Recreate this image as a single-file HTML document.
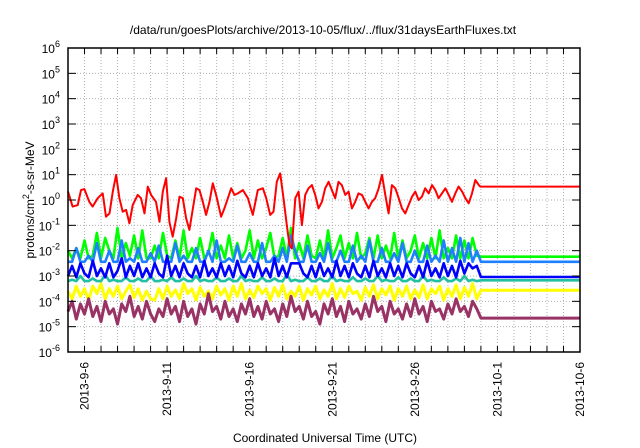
<!DOCTYPE html>
<html><head><meta charset="utf-8"><style>
body{margin:0;background:#fff}
svg{display:block;font-family:"Liberation Sans",sans-serif}
</style></head><body>
<svg id="chart" width="640" height="448" viewBox="0 0 640 448" xmlns="http://www.w3.org/2000/svg">
<rect width="640" height="448" fill="#fff"/>
<text x="323" y="34" font-size="12" text-anchor="middle">/data/run/goesPlots/archive/2013-10-05/flux/../flux/31daysEarthFluxes.txt</text>
<g id="grid"></g><g id="series"></g><g id="axes"></g>
<text transform="translate(34,200) rotate(-90)" font-size="12" text-anchor="middle">protons/cm<tspan dy="-5" font-size="9">2</tspan><tspan dy="5">-s-sr-MeV</tspan></text>
<text x="325" y="442" font-size="12" text-anchor="middle">Coordinated Universal Time (UTC)</text>
</svg>
<script>
const yTickExps=[-6,-5,-4,-3,-2,-1,0,1,2,3,4,5,6];
const xTickLabels=["2013-9-6","2013-9-11","2013-9-16","2013-9-21","2013-9-26","2013-10-1","2013-10-6"];
const xTickDays=[1,6,11,16,21,26,31];
const redDays=[0,0.28,0.59,0.79,0.99,1.29,1.49,1.80,2.10,2.30,2.51,2.71,2.91,3.11,3.31,3.52,3.72,3.92,4.22,4.42,4.63,4.83,5.03,5.33,5.54,5.74,5.94,6.14,6.34,6.55,6.75,6.95,7.15,7.35,7.56,7.76,7.96,8.16,8.36,8.57,8.77,8.97,9.27,9.47,9.68,9.88,10.08,10.28,10.59,10.89,11.19,11.49,11.80,12.0,
12.24,12.44,12.64,12.85,13.05,13.25,13.41,13.55,13.76,13.96,14.16,14.36,14.56,14.77,14.97,15.17,15.37,15.57,15.78,15.98,16.18,16.38,16.58,16.79,16.99,17.19,17.39,17.59,17.80,18.0,18.20,18.40,18.60,18.81,19.01,19.21,19.41,19.61,19.82,20.02,20.22,20.42,20.62,20.83,21.03,21.23,21.43,21.63,21.84,22.04,22.24,22.44,22.64,22.85,23.05,23.25,23.45,23.65,23.86,24.06,24.26,24.46,24.66,24.87,24.97,31];
const redLog=[0.33,-0.26,-0.2,0.39,0.43,-0.07,-0.26,0.07,0.26,-0.66,-0.53,0.33,0.99,0.07,-0.46,-0.39,-0.92,-0.2,0.2,0.07,-0.53,0.53,0.2,-0.07,-0.86,0.33,0.86,-0.86,-1.45,-0.72,0.13,0.07,-0.72,-1.18,-0.33,0.46,0.39,-0.07,-0.59,-0.07,0.66,0.2,-0.66,-0.33,0.07,0.46,0.2,0.26,0.39,0.07,-0.59,0.39,0.46,0.07,
-0.59,-0.46,0.72,1.05,0.07,-0.99,-1.78,-1.91,0.07,0.33,-0.99,0.2,0.46,0.59,0.2,-0.33,-0.07,0.46,0.72,0.39,0.07,0.72,0.59,0.2,0.33,-0.33,-0.07,0.26,0.2,-0.07,-0.33,-0.07,0.07,0.46,0.99,0.2,-0.53,0.59,0.46,0.07,-0.33,-0.53,-0.2,0.13,0.33,0,0.13,0.46,0.26,0.59,0.39,0.07,0.26,0.46,0.2,-0.07,0.26,0.53,0.33,0.07,-0.13,0.26,0.79,0.59,0.53,0.53];
const greenLog=[-2.0,-2.3,-1.9,-2.3,-1.6,-2.3,-2.2,-1.3,-2.3,-1.5,-2.0,-2.3,-1.1,-2.3,-1.7,-2.2,-1.4,-2.3,-1.2,-2.3,
-2.3,-1.8,-2.3,-1.3,-2.2,-2.3,-1.6,-2.3,-1.2,-2.3,-1.9,-2.3,-1.5,-2.3,-2.1,-1.3,-2.3,-1.8,-2.3,-1.4,
-2.3,-1.7,-2.3,-2.0,-1.2,-2.3,-1.6,-2.3,-1.9,-1.3,-2.3,-2.2,-1.5,-2.3,-1.1,-2.3,-1.7,-2.3,-1.4,-2.2,
-2.3,-1.6,-2.3,-1.2,-2.3,-1.9,-1.4,-2.3,-1.7,-2.3,-1.3,-2.3,-2.1,-1.5,-2.3,-1.4,-2.3,-1.8,-2.3,-1.3,
-2.3,-1.6,-2.3,-2.0,-1.4,-2.3,-1.7,-2.3,-1.5,-2.3,-1.2,-2.3,-1.9,-2.3,-1.4,-2.3,-1.6,-2.3,-1.5,-2.2,-2.24];
const lightBlueLog=[-2.44,-2.44,-1.9,-2.44,-2.44,-2.2,-2.44,-1.7,-2.44,-2.44,-2.0,-2.44,-2.44,-1.6,-2.44,-2.3,-2.44,-1.9,-2.44,-2.44,
-2.1,-2.44,-1.8,-2.44,-2.44,-2.44,-1.7,-2.44,-2.2,-2.44,-2.44,-1.9,-2.44,-2.44,-2.0,-2.44,-1.6,-2.44,-2.44,-2.3,
-2.44,-1.8,-2.44,-2.44,-2.1,-2.44,-2.44,-1.7,-2.44,-2.44,-2.2,-2.44,-1.9,-2.44,-1.4,-2.0,-2.44,-2.44,-1.8,-2.44,
-2.44,-2.1,-2.44,-1.7,-2.44,-2.44,-2.0,-2.44,-2.44,-1.8,-2.44,-2.2,-2.44,-1.6,-2.44,-2.44,-1.9,-2.44,-2.44,-2.1,
-2.44,-1.7,-2.44,-2.44,-2.0,-2.44,-2.44,-1.8,-2.44,-2.2,-2.44,-1.6,-2.44,-1.9,-2.44,-1.5,-2.44,-1.7,-2.44,-2.0,-2.44];
const blueLog=[-3.0,-2.6,-3.05,-2.5,-2.9,-3.05,-2.4,-3.0,-2.7,-3.05,-2.5,-3.05,-2.8,-2.3,-3.05,-2.6,-3.0,-2.5,-3.05,-2.7,
-3.05,-2.5,-2.9,-3.05,-2.2,-3.0,-2.6,-3.05,-2.5,-2.9,-3.05,-2.6,-3.05,-2.4,-3.0,-2.7,-3.05,-2.5,-3.0,-2.6,
-3.05,-2.4,-2.9,-3.05,-2.6,-3.05,-2.5,-3.0,-2.7,-3.05,-2.3,-3.0,-2.6,-3.05,-2.5,-2.5,-2.5,-2.9,-3.05,-2.6,
-3.05,-2.5,-3.0,-2.7,-3.05,-2.4,-3.0,-2.6,-3.05,-2.5,-2.9,-3.05,-2.6,-3.05,-2.4,-3.0,-2.7,-3.05,-2.5,-3.0,
-2.6,-3.05,-2.5,-2.9,-3.05,-2.6,-3.05,-2.4,-3.0,-2.7,-3.05,-2.5,-3.0,-2.6,-3.05,-2.4,-2.9,-2.5,-2.7,-2.6,-3.04];
const tealLog=[-3.2,-3.15,-3.2,-3.0,-3.2,-3.2,-3.1,-3.2,-3.2,-2.95,-3.2,-3.15,-3.2,-3.2,-3.05,-3.2,-3.2,-3.1,-3.2,-3.2,
-3.0,-3.2,-3.2,-3.15,-3.2,-3.05,-3.2,-3.2,-3.1,-3.2,-3.2,-3.0,-3.2,-3.15,-3.2,-3.2,-3.05,-3.2,-3.2,-3.1,
-3.2,-3.2,-3.0,-3.2,-3.15,-3.2,-3.2,-3.05,-3.2,-3.2,-3.1,-3.2,-3.2,-2.95,-3.2,-3.15,-3.2,-3.2,-3.05,-3.2,
-3.2,-3.1,-3.2,-3.2,-3.0,-3.2,-3.15,-3.2,-3.2,-3.05,-3.2,-3.2,-3.1,-3.2,-3.2,-3.0,-3.2,-3.15,-3.2,-3.2,
-3.05,-3.2,-3.2,-3.1,-3.2,-3.2,-3.0,-3.2,-3.15,-3.2,-3.2,-3.05,-3.2,-3.2,-3.1,-3.2,-3.0,-3.2,-3.15,-3.2,-3.17];
const yellowLog=[-3.6,-3.9,-3.4,-3.8,-3.5,-3.95,-3.4,-3.7,-3.3,-3.9,-3.5,-3.8,-3.4,-3.9,-3.6,-3.35,-3.85,-3.5,-3.95,-3.6,
-3.9,-3.95,-3.5,-3.9,-3.4,-3.8,-3.55,-3.9,-3.3,-3.7,-3.5,-3.95,-3.45,-3.8,-3.6,-3.9,-3.4,-3.75,-3.5,-3.95,
-3.4,-3.8,-3.3,-3.9,-3.55,-3.85,-3.4,-3.7,-3.5,-3.95,-3.45,-3.8,-3.35,-3.9,-3.6,-3.8,-3.4,-3.95,-3.5,-3.75,
-3.4,-3.9,-3.55,-3.8,-3.3,-3.9,-3.5,-3.85,-3.4,-3.7,-3.6,-3.95,-3.45,-3.8,-3.35,-3.9,-3.5,-3.75,-3.4,-3.95,
-3.5,-3.8,-3.4,-3.9,-3.55,-3.85,-3.35,-3.9,-3.5,-3.7,-3.4,-3.95,-3.5,-3.8,-3.35,-3.9,-3.45,-3.8,-3.3,-3.9,-3.56];
const purpleLog=[-4.4,-4.0,-4.7,-4.1,-4.5,-3.9,-4.6,-4.2,-4.8,-4.0,-4.5,-4.3,-4.9,-4.1,-4.4,-3.8,-4.6,-4.2,-4.7,-4.0,
-4.5,-4.8,-4.3,-4.6,-3.9,-4.5,-4.2,-4.8,-4.0,-4.6,-4.3,-4.9,-4.1,-4.5,-3.7,-4.4,-4.2,-4.7,-4.0,-4.6,
-4.3,-4.8,-4.1,-4.5,-3.9,-4.6,-4.2,-4.7,-4.0,-4.5,-4.3,-4.8,-4.1,-4.6,-3.8,-4.4,-4.2,-4.7,-4.0,-4.6,
-4.4,-4.9,-4.1,-4.5,-3.9,-4.6,-4.2,-4.8,-4.0,-4.5,-4.3,-4.7,-4.1,-4.6,-3.8,-4.4,-4.2,-4.8,-4.0,-4.5,
-4.3,-4.7,-4.1,-4.6,-3.9,-4.5,-4.2,-4.8,-4.0,-4.4,-4.3,-4.7,-4.1,-4.5,-3.9,-4.4,-4.2,-4.6,-4.0,-4.3,-4.66];
const sampleStepDays=0.25;

const NS="http://www.w3.org/2000/svg";
const L=68,R=580,T=48,B=352,D0=0,D1=31,E0=-6,E1=6;
function xs(d){return L+(d-D0)/(D1-D0)*(R-L);}
function ys(e){return B-(e-E0)/(E1-E0)*(B-T);}
function mk(tag,attrs,parent){const el=document.createElementNS(NS,tag);for(const k in attrs)el.setAttribute(k,attrs[k]);parent.appendChild(el);return el;}
const grid=document.getElementById('grid'),axes=document.getElementById('axes'),ser=document.getElementById('series');
for(let d=1;d<D1;d++){
  const g=mk('line',{x1:xs(d),x2:xs(d),y1:T,y2:B,stroke:'#b0b0b0','stroke-width':1,'stroke-dasharray':'1,2'},grid);
  
  
  const t1=mk('line',{x1:xs(d),x2:xs(d),y1:B,y2:B-6,stroke:'#000','stroke-width':1},axes);
  
  
  const t2=mk('line',{x1:xs(d),x2:xs(d),y1:T,y2:T+6,stroke:'#000','stroke-width':1},axes);
  
  
}
yTickExps.forEach(e=>{
  const y=ys(e);
  if(e>E0&&e<E1){
    const g=mk('line',{x1:L,x2:R,y1:y,y2:y,stroke:'#b0b0b0','stroke-width':1,'stroke-dasharray':'1,2'},grid);
    
    
  }
  const t=mk('line',{x1:L,x2:L+8,y1:y,y2:y,stroke:'#000'},axes);
  
  
  const t2=mk('line',{x1:R,x2:R-8,y1:y,y2:y,stroke:'#000'},axes);
  
  
  const tx=mk('text',{x:L-8,y:y+5,'font-size':12,'text-anchor':'end'},axes);
  
  
  tx.innerHTML='10<tspan dy="-6" font-size="9">'+e+'</tspan>';
});
xTickLabels.forEach((lab,i)=>{
  const x=xs(xTickDays[i]);
  const tx=mk('text',{transform:'translate('+(x+4)+','+(B+10)+') rotate(-90)','font-size':12,'text-anchor':'end'},axes);
  
  
  tx.textContent=lab;
});
const frame=mk('rect',{x:L,y:T,width:R-L,height:B-T,fill:'none',stroke:'#000','stroke-width':1.5},axes);



function sampled(name,vals,color,w){
  const pts=vals.map((v,i)=>xs(i*sampleStepDays).toFixed(1)+','+ys(v).toFixed(1));
  pts.push(xs(D1)+','+ys(vals[vals.length-1]).toFixed(1));
  const p=mk('polyline',{points:pts.join(' '),fill:'none',stroke:color,'stroke-width':w,'stroke-linejoin':'round'},ser);
  
  
}
sampled('series-yellow',yellowLog,'#ffff00',3);
sampled('series-purple',purpleLog,'#993366',3);
sampled('series-teal',tealLog,'#20c0a0',2.6);
sampled('series-green',greenLog,'#00ff00',2.6);
sampled('series-lightblue',lightBlueLog,'#1e80ff',2.6);
sampled('series-blue',blueLog,'#0000ff',2.6);
const rp=mk('polyline',{points:redDays.map((d,i)=>xs(d).toFixed(1)+','+ys(redLog[i]).toFixed(1)).join(' '),fill:'none',stroke:'#ff0000','stroke-width':2,'stroke-linejoin':'round'},ser);


</script>
</body></html>
